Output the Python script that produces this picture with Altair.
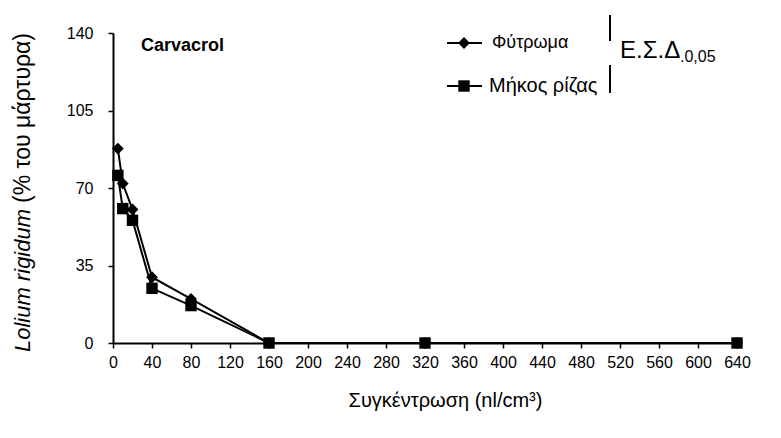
import altair as alt
import pandas as pd

# ---- data ----
conc = [5, 10, 20, 40, 80, 160, 320, 640]
fytroma = [87.8, 72.0, 60.3, 29.7, 19.9, 0, 0, 0]
mikos = [75.7, 60.7, 55.4, 24.7, 16.9, 0, 0, 0]
series = ["Φύτρωμα", "Μήκος ρίζας"]
x_ticks = list(range(0, 641, 40))
y_ticks = [0, 35, 70, 105, 140]

df = pd.DataFrame({
    "conc": conc * 2,
    "value": fytroma + mikos,
    "series": [series[0]] * len(conc) + [series[1]] * len(conc),
})

W, H = 624, 310
FONT = "Liberation Sans"

xenc = alt.X(
    "conc:Q",
    scale=alt.Scale(domain=[0, 640], nice=False, zero=True),
    axis=alt.Axis(
        values=x_ticks, title="Συγκέντρωση (nl/cm³)", format="d",
        titleFontSize=20, titleFontWeight="normal", titleFont=FONT,
        titleColor="black", titlePadding=20, labelPadding=6,
        labelFlush=False, labelOverlap=False, titleX=332, titleAlign="center",
    ),
)
yenc = alt.Y(
    "value:Q",
    scale=alt.Scale(domain=[0, 140], nice=False),
    axis=alt.Axis(values=y_ticks, title=None, labelPadding=15, labelFlush=False),
)

base = alt.Chart(df)
lines = base.mark_line(color="black", strokeWidth=2).encode(
    x=xenc, y=yenc, detail="series:N"
)
points = base.mark_point(filled=True, opacity=1, color="black").encode(
    x=xenc, y=yenc,
    shape=alt.Shape("series:N", scale=alt.Scale(domain=series, range=["diamond", "square"]), legend=None),
    size=alt.Size("series:N", scale=alt.Scale(domain=series, range=[140, 130]), legend=None),
)

# ---- y-axis title (italic species name + plain text) ----
ytitle_it = alt.Chart(pd.DataFrame({"t": ["Lolium rigidum"]})).mark_text(
    angle=270, align="left", baseline="middle", fontStyle="italic",
    fontSize=22, font=FONT, color="black"
).encode(x=alt.value(-90), y=alt.value(319), text="t:N")
ytitle_rest = alt.Chart(pd.DataFrame({"t": ["(% του μάρτυρα)"]})).mark_text(
    angle=270, align="left", baseline="middle",
    fontSize=23, font=FONT, color="black"
).encode(x=alt.value(-90), y=alt.value(170), text="t:N")

# ---- panel label ----
label = alt.Chart(pd.DataFrame({"t": ["Carvacrol"]})).mark_text(
    align="left", baseline="middle", fontWeight="bold", fontSize=18, font=FONT, color="black"
).encode(x=alt.value(28), y=alt.value(13), text="t:N")

# ---- legend ----
leg = pd.DataFrame({"series": series, "ly": [10, 53]})
leg_lines = alt.Chart(leg).mark_rule(color="black", strokeWidth=2).encode(
    x=alt.value(334), x2=alt.value(369), y=alt.Y("ly:Q", scale=None)
)
leg_pts = alt.Chart(leg).mark_point(filled=True, opacity=1, color="black").encode(
    x=alt.value(351), y=alt.Y("ly:Q", scale=None),
    shape=alt.Shape("series:N", scale=alt.Scale(domain=series, range=["diamond", "square"]), legend=None),
    size=alt.Size("series:N", scale=alt.Scale(domain=series, range=[140, 130]), legend=None),
)
leg_fy = alt.Chart(leg.iloc[[0]]).mark_text(
    align="left", baseline="middle", fontSize=18, font=FONT, color="black"
).encode(x=alt.value(379), y=alt.Y("ly:Q", scale=None), text="series:N")
leg_mi = alt.Chart(leg.iloc[[1]]).mark_text(
    align="left", baseline="middle", fontSize=20, font=FONT, color="black"
).encode(x=alt.value(376), y=alt.Y("ly:Q", scale=None), text="series:N")

# LSD bars
lsd = pd.DataFrame({"y1": [-18, 32], "y2": [8, 60]})
lsd_bars = alt.Chart(lsd).mark_rule(color="black", strokeWidth=2).encode(
    x=alt.value(497), y=alt.Y("y1:Q", scale=None), y2="y2:Q"
)
lsd_main = alt.Chart(pd.DataFrame({"t": ["Ε.Σ.Δ"]})).mark_text(
    align="left", baseline="alphabetic", fontSize=24, font=FONT, color="black"
).encode(x=alt.value(507), y=alt.value(25), text="t:N")
lsd_sub = alt.Chart(pd.DataFrame({"t": [".0,05"]})).mark_text(
    align="left", baseline="alphabetic", fontSize=16, font=FONT, color="black"
).encode(x=alt.value(567), y=alt.value(29), text="t:N")

chart = alt.layer(
    lines, points, ytitle_it, ytitle_rest, label,
    leg_lines, leg_pts, leg_fy, leg_mi, lsd_bars, lsd_main, lsd_sub,
).properties(
    width=W, height=H,
    autosize=alt.AutoSizeParams(type="none"),
    padding={"left": 105, "top": 25, "right": 36, "bottom": 87},
).configure(
    background="white",
    view=alt.ViewConfig(stroke=None),
    axis=alt.AxisConfig(
        grid=False, domainColor="black", domainWidth=2, tickColor="black",
        tickSize=5, tickWidth=1.5, labelFont=FONT, labelFontSize=16,
        labelColor="black", titleFont=FONT,
    ),
)

chart.save("out.html", embed_options={"renderer": "svg", "actions": False})
